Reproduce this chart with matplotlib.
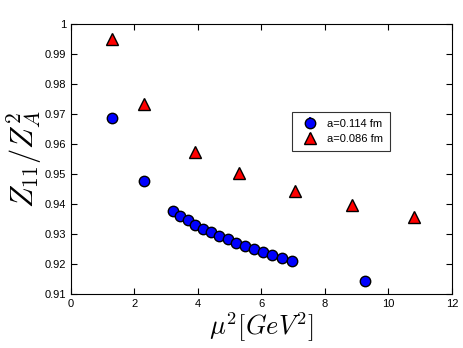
import matplotlib
matplotlib.use("Agg")
import matplotlib.pyplot as plt

# a = 0.114 fm
mu2_coarse = [1.3, 2.3, 3.23, 3.45, 3.69, 3.92, 4.16, 4.41, 4.67, 4.94, 5.21,
              5.48, 5.76, 6.06, 6.35, 6.66, 6.98, 9.25]
z_coarse = [0.9686, 0.9477, 0.9378, 0.9361, 0.9346, 0.9331, 0.9318, 0.9306,
            0.9293, 0.9282, 0.9271, 0.9260, 0.9249, 0.9239, 0.9229, 0.9219,
            0.9209, 0.9143]
err_coarse = [0.0004] * len(mu2_coarse)

# a = 0.086 fm
mu2_fine = [1.3, 2.3, 3.92, 5.28, 7.06, 8.84, 10.81]
z_fine = [0.9949, 0.9733, 0.9572, 0.9505, 0.9443, 0.9398, 0.9358]
err_fine = [0.0008, 0.0004, 0.0003, 0.0003, 0.0003, 0.0003, 0.0003]

plt.rcParams["font.family"] = ["Liberation Sans", "DejaVu Sans"]
plt.rcParams["mathtext.fontset"] = "cm"

fig = plt.figure(figsize=(4.63, 3.48), dpi=100)
ax = fig.add_axes([0.153, 0.155, 0.823, 0.776])

ax.errorbar(mu2_coarse, z_coarse, yerr=err_coarse, fmt="o", color="blue",
            mec="black", mew=1.0, ms=7.5, ecolor="blue",
            label="a=0.114 fm")
ax.errorbar(mu2_fine, z_fine, yerr=err_fine, fmt="^", color="red",
            mec="black", mew=1.0, ms=8, ecolor="red",
            label="a=0.086 fm")

ax.set_xlim(0, 12)
ax.set_ylim(0.91, 1.0)
ax.set_xticks(range(0, 13, 2))
ax.set_yticks([0.91, 0.92, 0.93, 0.94, 0.95, 0.96, 0.97, 0.98, 0.99, 1.0])
ax.set_yticklabels(["0.91", "0.92", "0.93", "0.94", "0.95", "0.96", "0.97",
                    "0.98", "0.99", "1"])
ax.tick_params(direction="in", top=True, right=True, labelsize=8, length=4)
for s in ax.spines.values():
    s.set_linewidth(0.8)

ax.set_xlabel(r"$\mu^2[GeV^2]$", fontsize=19, labelpad=1)
ax.set_ylabel(r"$Z_{11}/Z_A^2$", fontsize=22, labelpad=0)

leg = ax.legend(loc="upper left", bbox_to_anchor=(0.58, 0.674), fontsize=8,
                numpoints=1, frameon=True, fancybox=False, borderpad=0.6,
                handletextpad=0.6, borderaxespad=0)
leg.get_frame().set_edgecolor("black")
leg.get_frame().set_linewidth(0.8)

fig.savefig("out.png", dpi=100)
